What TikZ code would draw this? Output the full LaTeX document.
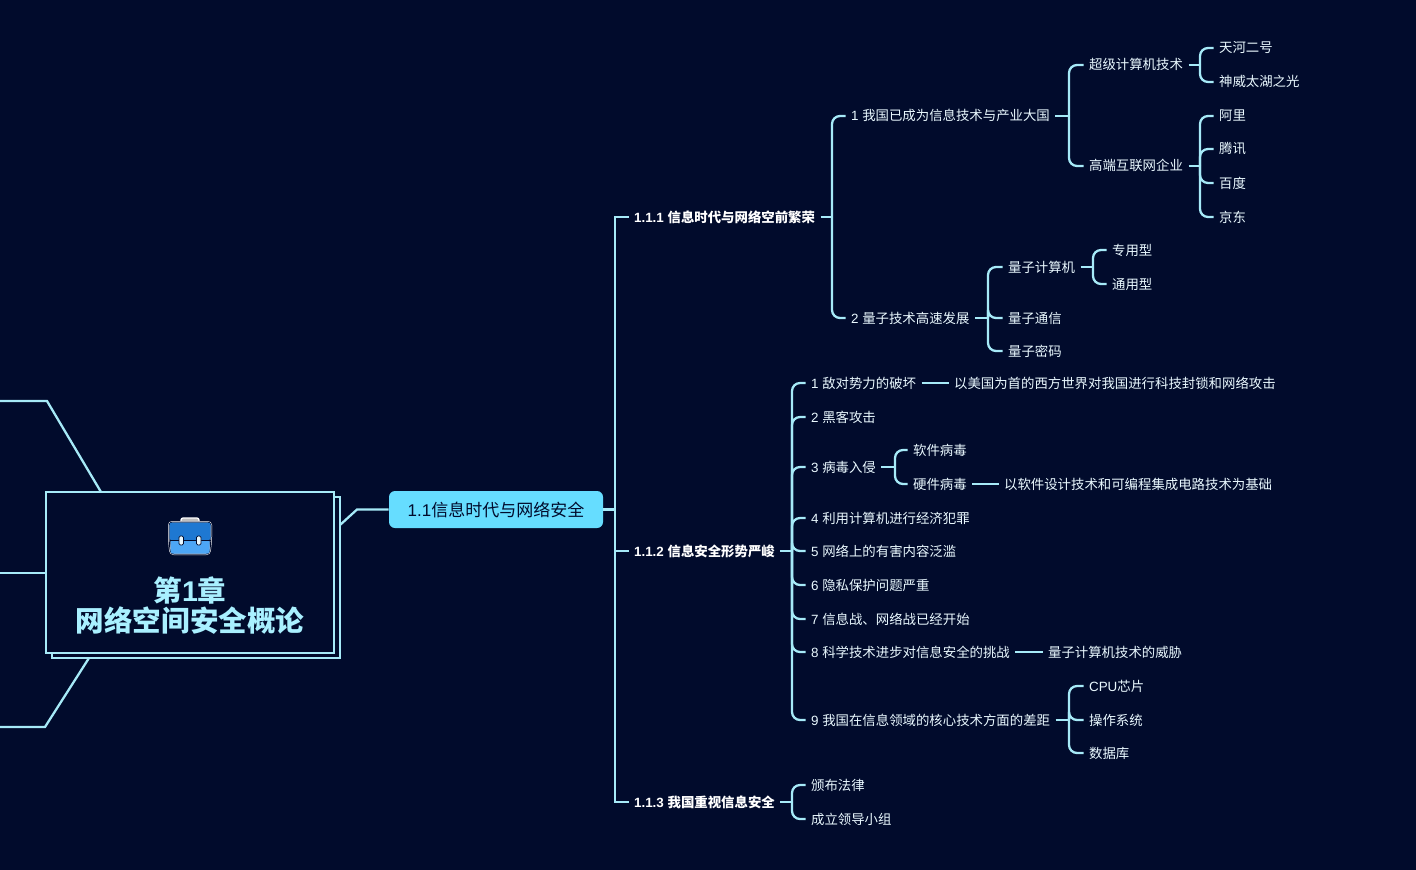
\documentclass[tikz,border=0pt]{standalone}
\usepackage{fontspec}
\setmainfont{Noto Sans CJK SC}
\newfontfamily\latinfont{Liberation Sans}
\newcommand*{\lat}[1]{{\latinfont #1}}
\newcommand*{\casepath}{[rounded corners=2.5pt] (169,522) -- (211,522) -- (211,540) -- (209.5,554) -- (170.5,554) -- (169,540) -- cycle}
\definecolor{mapbg}{HTML}{010B2C}
\definecolor{mapline}{HTML}{A6EAF8}
\definecolor{maptitle}{HTML}{A9F0FF}
\definecolor{maptopic}{HTML}{66DDFF}
\definecolor{mapleaf}{HTML}{EAF9FF}
\definecolor{casedark}{HTML}{1E78D2}
\definecolor{caselight}{HTML}{4DA6F5}

\begin{document}
\begin{tikzpicture}
[
	x=0.75pt,
	y=-0.75pt,
	link/.style={draw=mapline,line width=1.7pt},
	branch/.style={link,rounded corners=6pt},
	rootbox/.style={rectangle,draw=mapline,line width=1.5pt,fill=mapbg,minimum width=216pt,minimum height=120.75pt},
	topicbox/.style={rectangle,rounded corners=4.5pt,fill=maptopic,text=mapbg,minimum width=160.5pt,minimum height=27.75pt,inner sep=0pt,font=\fontsize{12.75}{15}\selectfont},
	leaf/.style={anchor=west,inner xsep=4pt,inner ysep=0pt,text height=9.5pt,text depth=2pt,text=mapleaf,font=\fontsize{10.05}{12}\selectfont},
	section/.style={leaf,text=white,font=\fontsize{10.05}{12}\selectfont\bfseries}
]

	\useasboundingbox[fill=mapbg] (0,0) rectangle (1416,870);

	% central topic
	\coordinate (upperend) at (0,401);
	\coordinate (upperknee) at (47,401);
	\coordinate (upperroot) at (101,492);
	\coordinate (middleend) at (0,573);
	\coordinate (middleroot) at (46,573);
	\coordinate (lowerend) at (0,727);
	\coordinate (lowerknee) at (45,727);
	\coordinate (lowerroot) at (89,658);
	\coordinate (rightroot) at (340,525);
	\coordinate (rightknee) at (357,509.5);

	\draw[link] (upperend) -- (upperknee) -- (upperroot);
	\draw[link] (middleend) -- (middleroot);
	\draw[link] (lowerend) -- (lowerknee) -- (lowerroot);

	\node[rootbox] (rootshadow) at (195.5,577.5) {};
	\node[rootbox] (root) at (190,572.5) {};
	\node[align=center,text=maptitle,inner sep=0pt,font=\fontsize{21.4}{22.5}\selectfont\bfseries] (title) at (190,606) {第\lat{1}章\\网络空间安全概论};

	% briefcase
	\draw[white,line width=0.9pt,fill=lightgray,rounded corners=1.5pt] (181,518) rectangle (199,527);
	\draw[white,line width=1.5pt] \casepath;
	\draw[mapbg,line width=0.75pt] \casepath;
	\fill[caselight,rounded corners=1.5pt] (170.5,539) rectangle (209.5,553.5);
	\fill[casedark,rounded corners=1.5pt] (169.5,522.5) rectangle (210.5,540);
	\draw[mapbg,line width=0.9pt] (169.5,540.5) -- (210.5,540.5);
	\draw[mapbg,line width=0.6pt,fill=mapleaf,rounded corners=1pt] (179,536) rectangle (183.5,545);
	\draw[mapbg,line width=0.6pt,fill=mapleaf,rounded corners=1pt] (196.5,536) rectangle (201,545);

	\node[topicbox] (topic) at (496,509.5) {\lat{1.1}信息时代与网络安全};
	\draw[link] (rightroot) -- (rightknee) -- (topic.west);

	% sections
	\node[section] (prosper) at (628.5,217) {\lat{1.1.1 }信息时代与网络空前繁荣};
	\node[section] (severe) at (628.5,551) {\lat{1.1.2 }信息安全形势严峻};
	\node[section] (attention) at (628.5,802) {\lat{1.1.3 }我国重视信息安全};

	\draw[link] (topic.east) -- (615,509.5) coordinate (topicjoin);
	\foreach \kid in {prosper,severe,attention}
		\draw[link] (topicjoin) |- (\kid.west);

	% 1.1.1
	\node[leaf] (bigcountry) at (845.5,116) {\lat{1 }我国已成为信息技术与产业大国};
	\node[leaf] (quantum) at (845.5,318) {\lat{2 }量子技术高速发展};
	\node[leaf] (supercomp) at (1083.5,65) {超级计算机技术};
	\node[leaf] (internet) at (1083.5,166) {高端互联网企业};
	\node[leaf] (tianhe) at (1213.5,48) {天河二号};
	\node[leaf] (shenwei) at (1213.5,82) {神威太湖之光};
	\node[leaf] (ali) at (1213.5,116) {阿里};
	\node[leaf] (tencent) at (1213.5,149) {腾讯};
	\node[leaf] (baidu) at (1213.5,183) {百度};
	\node[leaf] (jd) at (1213.5,217) {京东};
	\node[leaf] (qcomputer) at (1002.5,267) {量子计算机};
	\node[leaf] (qcomm) at (1002.5,318) {量子通信};
	\node[leaf] (qcrypto) at (1002.5,351) {量子密码};
	\node[leaf] (special) at (1106.5,250) {专用型};
	\node[leaf] (general) at (1106.5,284) {通用型};

	\draw[link] (prosper.east) -- (832,217) coordinate (prosperjoin);
	\foreach \kid in {bigcountry,quantum}
		\draw[branch] (prosperjoin) |- (\kid.west);
	\draw[link] (bigcountry.east) -- (1069,116) coordinate (bigjoin);
	\foreach \kid in {supercomp,internet}
		\draw[branch] (bigjoin) |- (\kid.west);
	\draw[link] (supercomp.east) -- (1200,65) coordinate (superjoin);
	\foreach \kid in {tianhe,shenwei}
		\draw[branch] (superjoin) |- (\kid.west);
	\draw[link] (internet.east) -- (1200,166) coordinate (netjoin);
	\foreach \kid in {ali,tencent,baidu,jd}
		\draw[branch] (netjoin) |- (\kid.west);
	\draw[link] (quantum.east) -- (988,318) coordinate (quantumjoin);
	\foreach \kid in {qcomputer,qcomm,qcrypto}
		\draw[branch] (quantumjoin) |- (\kid.west);
	\draw[link] (qcomputer.east) -- (1093,267) coordinate (qcjoin);
	\foreach \kid in {special,general}
		\draw[branch] (qcjoin) |- (\kid.west);

	% 1.1.2
	\node[leaf] (enemy) at (805.5,383) {\lat{1 }敌对势力的破坏};
	\node[leaf] (hacker) at (805.5,417) {\lat{2 }黑客攻击};
	\node[leaf] (virus) at (805.5,467) {\lat{3 }病毒入侵};
	\node[leaf] (crime) at (805.5,518) {\lat{4 }利用计算机进行经济犯罪};
	\node[leaf] (harmful) at (805.5,551) {\lat{5 }网络上的有害内容泛滥};
	\node[leaf] (privacy) at (805.5,585) {\lat{6 }隐私保护问题严重};
	\node[leaf] (infowar) at (805.5,619) {\lat{7 }信息战、网络战已经开始};
	\node[leaf] (science) at (805.5,652) {\lat{8 }科学技术进步对信息安全的挑战};
	\node[leaf] (coretech) at (805.5,720) {\lat{9 }我国在信息领域的核心技术方面的差距};
	\node[leaf] (blockade) at (948.5,383) {以美国为首的西方世界对我国进行科技封锁和网络攻击};
	\node[leaf] (softvirus) at (907.5,450) {软件病毒};
	\node[leaf] (hardvirus) at (907.5,484) {硬件病毒};
	\node[leaf] (softbase) at (998.5,484) {以软件设计技术和可编程集成电路技术为基础};
	\node[leaf] (qthreat) at (1042.5,652) {量子计算机技术的威胁};
	\node[leaf] (cpu) at (1083.5,686) {\lat{CPU}芯片};
	\node[leaf] (os) at (1083.5,720) {操作系统};
	\node[leaf] (database) at (1083.5,753) {数据库};

	\draw[link] (severe.east) -- (792,551) coordinate (severejoin);
	\foreach \kid in {enemy,hacker,virus,crime,harmful,privacy,infowar,science,coretech}
		\draw[branch] (severejoin) |- (\kid.west);
	\draw[link] (enemy.east) -- (blockade.west);
	\draw[link] (virus.east) -- (895,467) coordinate (virusjoin);
	\foreach \kid in {softvirus,hardvirus}
		\draw[branch] (virusjoin) |- (\kid.west);
	\draw[link] (hardvirus.east) -- (softbase.west);
	\draw[link] (science.east) -- (qthreat.west);
	\draw[link] (coretech.east) -- (1069,720) coordinate (corejoin);
	\foreach \kid in {cpu,os,database}
		\draw[branch] (corejoin) |- (\kid.west);

	% 1.1.3
	\node[leaf] (laws) at (805.5,785) {颁布法律};
	\node[leaf] (group) at (805.5,819) {成立领导小组};

	\draw[link] (attention.east) -- (792,802) coordinate (attentionjoin);
	\foreach \kid in {laws,group}
		\draw[branch] (attentionjoin) |- (\kid.west);

\end{tikzpicture}
\end{document}
